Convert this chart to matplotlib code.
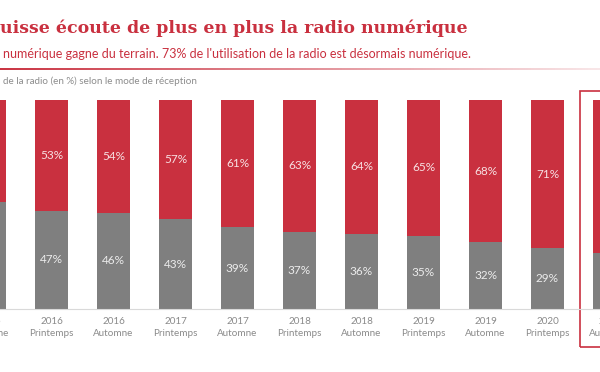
import matplotlib
matplotlib.use("Agg")
import matplotlib.pyplot as plt
from matplotlib.patches import Rectangle
from matplotlib.collections import LineCollection
import numpy as np

years = ["2015", "2016", "2016", "2017", "2017", "2018", "2018", "2019", "2019", "2020", "2020"]
seasons = ["Automne", "Printemps", "Automne", "Printemps", "Automne", "Printemps",
           "Automne", "Printemps", "Automne", "Printemps", "Automne"]
numerique = [49, 53, 54, 57, 61, 63, 64, 65, 68, 71, 73]
analogique = [51, 47, 46, 43, 39, 37, 36, 35, 32, 29, 27]

title = "uisse écoute de plus en plus la radio numérique"
subtitle = "numérique gagne du terrain. 73% de l'utilisation de la radio est désormais numérique."
caption = "de la radio (en %) selon le mode de réception"

RED = "#C9303F"
GRAY = "#7F7F7F"
W, H = 600, 372

fig = plt.figure(figsize=(6, 3.72), dpi=100)
ax = fig.add_axes([0, (H - 309) / H, 1, 209 / H])

x = np.arange(len(numerique))
bw = 0.53
ax.bar(x, analogique, width=bw, color=GRAY, linewidth=0)
ax.bar(x, numerique, width=bw, bottom=analogique, color=RED, linewidth=0)

xmin, xmax = 10.5 / 62, (600 + 10.5) / 62
ax.set_xlim(xmin, xmax)
ax.set_ylim(0, 100)
ax.set_xticks([])
ax.set_yticks([])
for s in ["top", "left", "right"]:
    ax.spines[s].set_visible(False)
ax.spines["bottom"].set_color("#D9D9D9")
ax.spines["bottom"].set_linewidth(0.8)

# category labels (drawn as text so the partly visible edge categories remain)
xt = ax.get_xaxis_transform()
for i in x:
    ax.text(i, -8 / 209, f"{years[i]}\n{seasons[i]}", transform=xt, ha="center",
            va="top", family="Lato", fontsize=7.1, color="#8A8A8A",
            linespacing=1.45, clip_on=False)

# value labels only for bars whose centre lies inside the visible window
for i in x:
    if not (xmin <= i <= xmax):
        continue
    ax.text(i, analogique[i] / 2, f"{analogique[i]}%", ha="center", va="center",
            fontsize=8.5, family="Lato", color="white", alpha=0.85)
    ax.text(i, analogique[i] + numerique[i] / 2, f"{numerique[i]}%", ha="center",
            va="center", fontsize=8.5, family="Lato", color="white", alpha=0.85)

last = len(numerique) - 1
ax.add_patch(Rectangle((last - 0.476, -18.2), 0.952, 122.5, fill=False,
                       edgecolor=RED, linewidth=1.2, clip_on=False))

t1 = fig.text(0 / W, 1 - 33 / H, title, family="DejaVu Serif", fontweight="bold",
              color=RED, fontsize=14, va="baseline", ha="left")
t2 = fig.text(3 / W, 1 - 58 / H, subtitle, family="Lato", color=RED, fontsize=9,
              va="baseline", ha="left")
t3 = fig.text(3 / W, 1 - 84 / H, caption, family="Lato", color="#8C8C8C", fontsize=6.5,
              va="baseline", ha="left")

fig.canvas.draw()
r = fig.canvas.get_renderer()
for t, target in [(t1, 466), (t2, 469), (t3, 192)]:
    w = t.get_window_extent(r).width
    t.set_fontsize(t.get_fontsize() * target / w)

n = 200
xs = np.linspace(0, 1, n + 1)
segs = [[(xs[k], 1 - 69 / H), (xs[k + 1], 1 - 69 / H)] for k in range(n)]
alphas = np.linspace(1.0, 0.12, n)
cols = [matplotlib.colors.to_rgba(RED, a) for a in alphas]
lc = LineCollection(segs, colors=cols, linewidths=1.4, transform=fig.transFigure)
fig.add_artist(lc)

fig.savefig("out.png", dpi=100)
